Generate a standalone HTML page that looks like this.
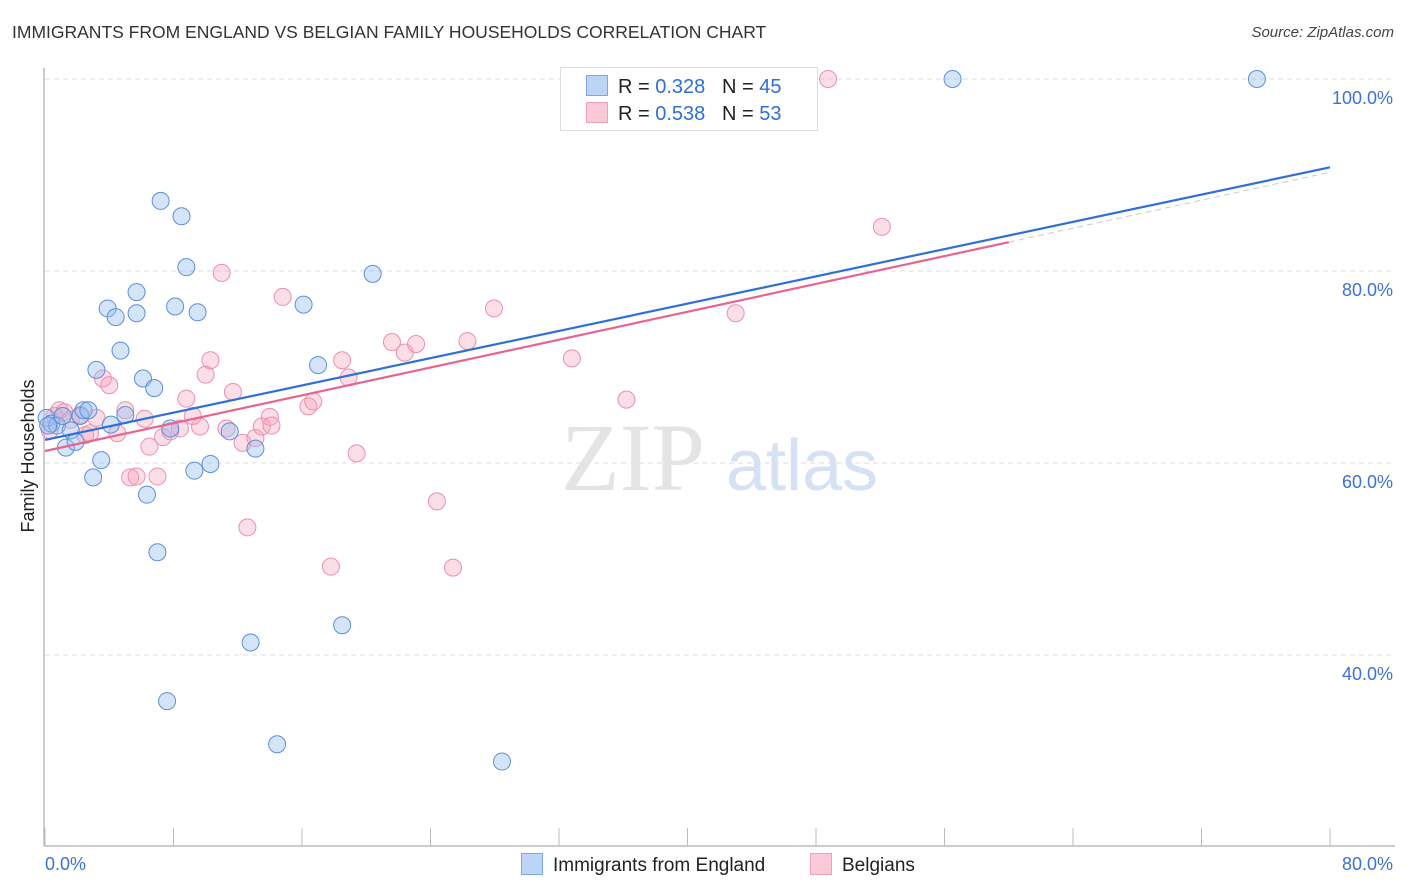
<!DOCTYPE html>
<html><head><meta charset="utf-8">
<style>
body{margin:0;background:#fff;font-family:"Liberation Sans",sans-serif;}
#wrap{position:relative;width:1406px;height:892px;overflow:hidden;}
.t{position:absolute;white-space:nowrap;}
</style></head>
<body>
<div id="wrap">
<div class="t" style="left:12px;top:22px;font-size:17.5px;color:#333;">IMMIGRANTS FROM ENGLAND VS BELGIAN FAMILY HOUSEHOLDS CORRELATION CHART</div>
<div class="t" style="right:12px;top:24px;font-size:15px;color:#444;font-style:italic;">Source: ZipAtlas.com</div>
<svg id="svg" width="1406" height="892" style="position:absolute;left:0;top:0"></svg>
</div>
<script>
const blueX=[0.1,0.4,0.75,1.1,1.3,1.6,1.9,2.2,2.4,2.7,3.0,3.2,3.5,3.9,4.1,4.4,4.7,5.0,5.7,5.7,6.1,6.35,6.8,7.0,7.2,7.6,7.8,8.1,8.5,8.8,9.3,9.5,10.3,11.5,12.8,13.1,14.45,16.1,17.0,18.5,20.4,28.45,56.5,75.45,0.2];
const blueY=[64.7,64.1,63.9,64.9,61.6,63.4,62.2,64.9,65.5,65.5,58.5,69.7,60.3,76.1,64.0,75.2,71.7,65.0,77.8,75.6,68.8,56.7,67.8,50.7,87.3,35.2,63.6,76.3,85.7,80.4,59.2,75.7,59.9,63.3,41.3,61.5,30.7,76.5,70.2,43.1,79.7,28.9,100,100,63.9];
const pinkX=[0.3,0.6,0.9,1.2,1.6,2.2,2.5,2.8,3.2,3.6,4.0,4.5,5.0,5.3,5.7,6.2,6.5,7.0,7.35,7.8,8.4,8.8,9.2,9.65,10.0,10.3,11.0,11.3,11.7,12.3,12.6,13.1,13.5,14.0,14.1,14.8,16.4,16.7,17.8,18.5,18.9,19.4,21.6,22.4,23.1,24.4,25.4,26.3,27.95,32.8,36.2,43.0,48.75,52.1];
const pinkY=[63.4,64.9,65.5,65.3,64.5,65.0,62.9,63.1,64.7,68.8,68.1,63.1,65.5,58.5,58.6,64.6,61.7,58.6,62.7,63.3,63.6,66.7,64.9,63.8,69.2,70.7,79.8,63.6,67.4,62.1,53.3,62.6,63.8,64.8,63.9,77.3,65.9,66.4,49.2,70.7,68.9,61.0,72.6,71.5,72.4,56.0,49.1,72.7,76.1,70.9,66.6,75.6,100,84.6];
const xTicks=[0,8,16,24,32,40,48,56,64,72,80];
const yTicks=[40,60,80,100];
const blueLine=[[0,62.4],[80,90.8]];
const pinkLine=[[0,61.25],[60,83.0]];
const pinkDash=[[60,83.0],[80,90.3]];
const NS="http://www.w3.org/2000/svg";
const svg=document.getElementById('svg');
const sx=v=>45+v*16.0625;
const sy=v=>79+(100-v)*9.6;
function mk(tag,attrs){const e=document.createElementNS(NS,tag);for(const k in attrs)e.setAttribute(k,attrs[k]);svg.appendChild(e);return e;}
// grid
yTicks.forEach(v=>{
  const g=mk('line',{x1:45,x2:1395,y1:sy(v),y2:sy(v),stroke:'#ddd','stroke-dasharray':'5,4','stroke-width':1});
  
  
  const t=mk('text',{x:1393,y:sy(v)+25,'text-anchor':'end','font-size':18,fill:'#3d72d4','font-family':'Liberation Sans, sans-serif'});
  t.textContent=v.toFixed(1)+'%';
  
  
});
// axes
const ax=mk('line',{x1:44,x2:44,y1:68,y2:846,stroke:'#bbb','stroke-width':1.5});


const bx=mk('line',{x1:44,x2:1395,y1:846,y2:846,stroke:'#bbb','stroke-width':1.5});


xTicks.forEach(v=>{
  const l=mk('line',{x1:sx(v),x2:sx(v),y1:828,y2:846,stroke:'#bbb','stroke-width':1});
  
  
});
[[0,'start',45],[80,'end',1393]].forEach(([v,a,x])=>{
  const t=mk('text',{x:x,y:870,'text-anchor':a,'font-size':18,fill:'#3d72d4','font-family':'Liberation Sans, sans-serif'});
  t.textContent=v.toFixed(1)+'%';
  
  
});
// y title
const yt=mk('text',{x:0,y:0,'font-size':18,fill:'#222','text-anchor':'middle','font-family':'Liberation Sans, sans-serif',transform:'translate(34,456) rotate(-90)'});
yt.textContent='Family Households';


// watermark
const w1=mk('text',{x:633,y:490,'text-anchor':'middle','font-size':96,fill:'#e4e4e4','font-family':'Liberation Serif, serif'});
w1.textContent='ZIP';


const w2=mk('text',{x:802,y:490,'text-anchor':'middle','font-size':72,fill:'#d6e2f3','font-family':'Liberation Sans, sans-serif'});
w2.textContent='atlas';


// points
pinkX.forEach((x,i)=>{
  const c=mk('circle',{cx:sx(x),cy:sy(pinkY[i]),r:8.5,fill:'rgba(246,160,185,0.35)',stroke:'#ec8fac','stroke-width':1});
  
  
});
blueX.forEach((x,i)=>{
  const c=mk('circle',{cx:sx(x),cy:sy(blueY[i]),r:8.5,fill:'rgba(150,190,240,0.4)',stroke:'#5b8fdc','stroke-width':1});
  
  
});
// trend lines
const dl=mk('line',{x1:sx(pinkDash[0][0]),y1:sy(pinkDash[0][1]),x2:sx(pinkDash[1][0]),y2:sy(pinkDash[1][1]),stroke:'#ccc','stroke-width':1,'stroke-dasharray':'6,4'});


const bl=mk('line',{x1:sx(blueLine[0][0]),y1:sy(blueLine[0][1]),x2:sx(blueLine[1][0]),y2:sy(blueLine[1][1]),stroke:'#2f6fd6','stroke-width':2.2});


const pl=mk('line',{x1:sx(pinkLine[0][0]),y1:sy(pinkLine[0][1]),x2:sx(pinkLine[1][0]),y2:sy(pinkLine[1][1]),stroke:'#e8648f','stroke-width':2.2});


</script>
<div class="t" style="left:560px;top:67px;width:256px;height:62px;border:1px solid #ddd;background:#fff;"></div>
<div class="t" style="left:586px;top:75px;font-size:20px;color:#222;">
<span style="display:inline-block;width:20px;height:19px;background:#bcd4f5;border:1px solid #7fa6e0;vertical-align:-3px;margin-right:10px"></span>R = <span style="color:#2f6fd6">0.328</span>&nbsp;&nbsp;&nbsp;N = <span style="color:#2f6fd6">45</span></div>
<div class="t" style="left:586px;top:102px;font-size:20px;color:#222;">
<span style="display:inline-block;width:20px;height:19px;background:#fbcad8;border:1px solid #f0a0b8;vertical-align:-3px;margin-right:10px"></span>R = <span style="color:#2f6fd6">0.538</span>&nbsp;&nbsp;&nbsp;N = <span style="color:#2f6fd6">53</span></div>
<div class="t" style="left:521px;top:853px;font-size:19px;color:#222;">
<span style="display:inline-block;width:20px;height:20px;background:#bcd4f5;border:1px solid #7fa6e0;vertical-align:-4px;margin-right:10px"></span>Immigrants from England</div>
<div class="t" style="left:810px;top:853px;font-size:19px;color:#222;">
<span style="display:inline-block;width:20px;height:20px;background:#fbcad8;border:1px solid #f0a0b8;vertical-align:-4px;margin-right:10px"></span>Belgians</div>
</body></html>
